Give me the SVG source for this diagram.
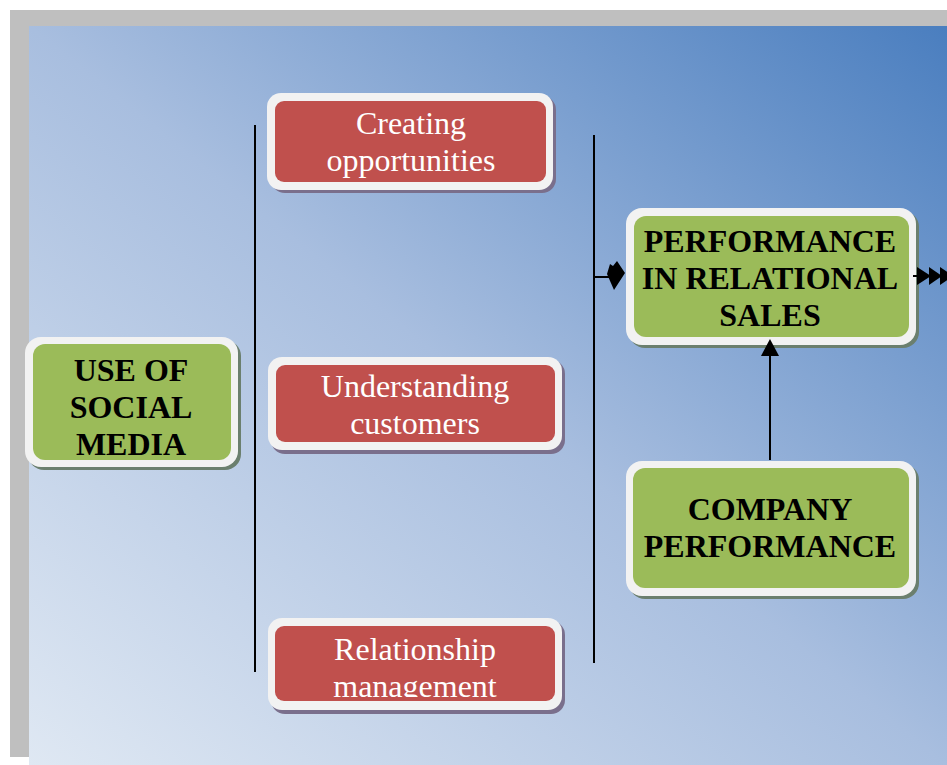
<svg xmlns="http://www.w3.org/2000/svg" width="947" height="765" viewBox="0 0 947 765">
<style>
.outer{fill:#f2f2f2;}
.red{fill:#c0504d;}
.green{fill:#9bbb59;}
.shr{fill:#7a6f8c;}
.shg{fill:#6b7f6e;}
.wt{font-family:"Liberation Serif","Times New Roman",serif;font-size:32px;fill:#ffffff;text-anchor:middle;}
.bt{font-family:"Liberation Serif","Times New Roman",serif;font-size:32px;font-weight:bold;fill:#000000;text-anchor:middle;}
.ln{stroke:#000;stroke-width:2;fill:none;}
</style>
<defs>
<linearGradient id="bg" x1="0" y1="1" x2="1" y2="0">
<stop offset="0" stop-color="#dfe8f3"/>
<stop offset="0.5" stop-color="#a8bedf"/>
<stop offset="1" stop-color="#4a7ebf"/>
</linearGradient>
<clipPath id="clipRM"><rect x="275" y="626" width="280" height="71"/></clipPath>
</defs>
<rect x="0" y="0" width="947" height="765" fill="#ffffff"/>
<rect x="10" y="10" width="937" height="747" fill="#bfbfbf"/>
<rect x="29" y="26" width="918" height="739" fill="url(#bg)"/>

<g id="use-social-media">
<rect class="shg" x="28" y="340" width="213" height="130" rx="16"/>
<rect class="outer" x="25" y="337" width="213" height="130" rx="16"/>
<rect class="green" x="33" y="344" width="198" height="116" rx="12"/>
<text class="bt" x="131" y="381">USE OF</text>
<text class="bt" x="131" y="418">SOCIAL</text>
<text class="bt" x="131" y="455">MEDIA</text>
</g>

<g id="creating-opportunities">
<rect class="shr" x="271" y="96" width="285" height="97" rx="14"/>
<rect class="outer" x="267" y="93" width="286" height="97" rx="14"/>
<rect class="red" x="275" y="101" width="271" height="81" rx="9"/>
<text class="wt" x="411" y="134">Creating</text>
<text class="wt" x="411" y="171">opportunities</text>
</g>

<g id="understanding-customers">
<rect class="shr" x="271" y="360" width="294" height="94" rx="14"/>
<rect class="outer" x="268" y="357" width="294" height="93" rx="14"/>
<rect class="red" x="276" y="365" width="279" height="77" rx="9"/>
<text class="wt" x="415" y="397">Understanding</text>
<text class="wt" x="415" y="434">customers</text>
</g>

<g id="relationship-management">
<rect class="shr" x="271" y="621" width="294" height="93" rx="14"/>
<rect class="outer" x="268" y="618" width="294" height="92" rx="14"/>
<rect class="red" x="275" y="626" width="280" height="75" rx="9"/>
<text class="wt" x="415" y="660">Relationship</text>
<text class="wt" x="415" y="697" clip-path="url(#clipRM)">management</text>
</g>

<g id="performance-relational-sales">
<rect class="shg" x="629" y="211" width="290" height="137" rx="16"/>
<rect class="outer" x="626" y="208" width="290" height="137" rx="16"/>
<rect class="green" x="634" y="216" width="275" height="121" rx="12"/>
<text class="bt" x="770" y="252">PERFORMANCE</text>
<text class="bt" x="770" y="289">IN RELATIONAL</text>
<text class="bt" x="770" y="326">SALES</text>
</g>

<g id="company-performance">
<rect class="shg" x="629" y="464" width="290" height="135" rx="16"/>
<rect class="outer" x="626" y="461" width="290" height="135" rx="16"/>
<rect class="green" x="633" y="468" width="276" height="120" rx="12"/>
<text class="bt" x="770" y="520">COMPANY</text>
<text class="bt" x="770" y="557">PERFORMANCE</text>
</g>

<g id="connectors">
<line class="ln" x1="255" y1="125" x2="255" y2="672"/>
<line class="ln" x1="594" y1="135" x2="594" y2="663"/>
<line class="ln" x1="594" y1="277" x2="610" y2="277"/>
<polygon points="607,274 610,264 613,266 617,261 625,273 614,290" fill="#000"/>
<line class="ln" x1="770" y1="460" x2="770" y2="352"/>
<polygon points="770,339 779,356 761,356" fill="#000"/>
<line class="ln" x1="913" y1="276" x2="918" y2="276"/>
<polygon points="917,267 931,276 917,285" fill="#000"/>
<polygon points="929,267 942,276 929,285" fill="#000"/>
<polygon points="940,267 953,276 940,285" fill="#000"/>
</g>
</svg>
